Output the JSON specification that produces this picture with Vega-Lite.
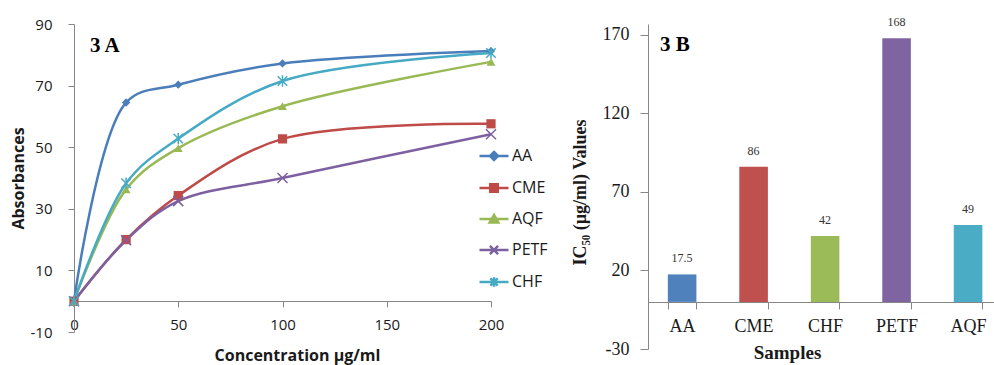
{
  "$schema": "https://vega.github.io/schema/vega-lite/v6.json",
  "background": "white",
  "padding": {"left": 10, "top": 16, "right": 0, "bottom": 4},
  "datasets": {
    "lines": [
      {"series": "AA", "conc": 0, "abs": 0},
      {"series": "AA", "conc": 25, "abs": 64.5},
      {"series": "AA", "conc": 50, "abs": 70.3},
      {"series": "AA", "conc": 100, "abs": 77.2},
      {"series": "AA", "conc": 200, "abs": 81.2},
      {"series": "CME", "conc": 0, "abs": 0},
      {"series": "CME", "conc": 25, "abs": 20},
      {"series": "CME", "conc": 50, "abs": 34.3},
      {"series": "CME", "conc": 100, "abs": 52.7},
      {"series": "CME", "conc": 200, "abs": 57.6},
      {"series": "AQF", "conc": 0, "abs": 0},
      {"series": "AQF", "conc": 25, "abs": 36.3},
      {"series": "AQF", "conc": 50, "abs": 49.7},
      {"series": "AQF", "conc": 100, "abs": 63.3},
      {"series": "AQF", "conc": 200, "abs": 77.7},
      {"series": "PETF", "conc": 0, "abs": 0},
      {"series": "PETF", "conc": 25, "abs": 19.8},
      {"series": "PETF", "conc": 50, "abs": 32.5},
      {"series": "PETF", "conc": 100, "abs": 40},
      {"series": "PETF", "conc": 200, "abs": 54.2},
      {"series": "CHF", "conc": 0, "abs": 0},
      {"series": "CHF", "conc": 25, "abs": 38.3},
      {"series": "CHF", "conc": 50, "abs": 52.8},
      {"series": "CHF", "conc": 100, "abs": 71.5},
      {"series": "CHF", "conc": 200, "abs": 80.6}
    ],
    "legend": [
      {"series": "AA"}, {"series": "CME"}, {"series": "AQF"}, {"series": "PETF"}, {"series": "CHF"}
    ],
    "bars": [
      {"sample": "AA", "ic50": 17.5},
      {"sample": "CME", "ic50": 86},
      {"sample": "CHF", "ic50": 42},
      {"sample": "PETF", "ic50": 168},
      {"sample": "AQF", "ic50": 49}
    ]
  },
  "spacing": 157,
  "bounds": "flush",
  "resolve": {"scale": {"color": "independent", "x": "independent", "y": "independent"}},
  "config": {
    "view": {"stroke": null},
    "axis": {"grid": false, "domainColor": "#868686", "tickColor": "#868686", "domainWidth": 1, "tickWidth": 1, "labelColor": "#1a1a1a", "titleColor": "#1a1a1a"}
  },
  "hconcat": [
    {
      "width": 417,
      "height": 308,
      "title": {"text": "3 A", "anchor": "start", "frame": "group", "offset": -39, "dx": 16, "font": "Liberation Serif", "fontSize": 21, "fontWeight": "bold", "color": "#000"},
      "layer": [
        {
          "data": {"name": "lines"},
          "mark": {"type": "line", "interpolate": "catmull-rom", "strokeWidth": 2.5},
          "encoding": {
            "x": {"field": "conc", "type": "quantitative", "scale": {"domain": [0, 200], "nice": false},
              "axis": {"values": [0, 50, 100, 150, 200], "offset": -31, "title": "Concentration µg/ml", "titleX": 223, "tickSize": 6, "labelPadding": 10, "titlePadding": 15, "labelFlush": false, "labelFont": "Open Sans", "labelFontSize": 15, "titleFont": "Open Sans", "titleFontSize": 16, "titleFontWeight": "bold"}},
            "y": {"field": "abs", "type": "quantitative", "scale": {"domain": [-10, 90], "nice": false, "zero": false},
              "axis": {"values": [-10, 10, 30, 50, 70, 90], "title": "Absorbances", "tickSize": 6, "labelPadding": 16, "titlePadding": 4, "labelFont": "Open Sans", "labelFontSize": 15, "titleFont": "Open Sans", "titleFontSize": 16, "titleFontWeight": "bold", "labelExpr": "replace(datum.label, '−', '-')"}},
            "color": {"field": "series", "type": "nominal", "scale": {"domain": ["AA", "CME", "AQF", "PETF", "CHF"], "range": ["#4A7EBB", "#BE4B48", "#98B954", "#7D60A0", "#46AAC5"]}, "legend": null}
          }
        },
        {
          "data": {"name": "lines"},
          "transform": [{"filter": {"field": "series", "equal": "AA"}}],
          "mark": {"type": "point", "shape": "diamond", "filled": true, "size": 70, "opacity": 1},
          "encoding": {
            "x": {"field": "conc", "type": "quantitative"},
            "y": {"field": "abs", "type": "quantitative"},
            "color": {"field": "series", "type": "nominal", "legend": null}
          }
        },
        {
          "data": {"name": "lines"},
          "transform": [{"filter": {"field": "series", "equal": "CME"}}],
          "mark": {"type": "point", "shape": "square", "filled": true, "size": 85, "opacity": 1},
          "encoding": {
            "x": {"field": "conc", "type": "quantitative"},
            "y": {"field": "abs", "type": "quantitative"},
            "color": {"field": "series", "type": "nominal", "legend": null}
          }
        },
        {
          "data": {"name": "lines"},
          "transform": [{"filter": {"field": "series", "equal": "AQF"}}],
          "mark": {"type": "point", "shape": "triangle-up", "filled": true, "size": 80, "opacity": 1},
          "encoding": {
            "x": {"field": "conc", "type": "quantitative"},
            "y": {"field": "abs", "type": "quantitative"},
            "color": {"field": "series", "type": "nominal", "legend": null}
          }
        },
        {
          "data": {"name": "lines"},
          "transform": [{"filter": {"field": "series", "equal": "PETF"}}],
          "mark": {"type": "point", "shape": "M-1,-1L1,1M1,-1L-1,1", "filled": false, "size": 100, "strokeWidth": 1.5, "opacity": 1},
          "encoding": {
            "x": {"field": "conc", "type": "quantitative"},
            "y": {"field": "abs", "type": "quantitative"},
            "color": {"field": "series", "type": "nominal", "legend": null}
          }
        },
        {
          "data": {"name": "lines"},
          "transform": [{"filter": {"field": "series", "equal": "CHF"}}],
          "mark": {"type": "point", "shape": "M-1,-1L1,1M1,-1L-1,1M0,-1.2L0,1.2", "filled": false, "size": 90, "strokeWidth": 1.5, "opacity": 1},
          "encoding": {
            "x": {"field": "conc", "type": "quantitative"},
            "y": {"field": "abs", "type": "quantitative"},
            "color": {"field": "series", "type": "nominal", "legend": null}
          }
        },
        {
          "data": {"name": "legend"},
          "mark": {"type": "point", "filled": true, "opacity": 0},
          "encoding": {
            "fill": {"field": "series", "type": "nominal", "scale": {"domain": ["AA", "CME", "AQF", "PETF", "CHF"], "range": ["#4A7EBB", "#BE4B48", "#98B954", "#7D60A0", "#46AAC5"]},
              "legend": {"orient": "none", "legendX": 404, "legendY": 116, "title": null, "padding": 0, "symbolSize": 841, "symbolStrokeWidth": 2.5, "symbolOpacity": 1, "labelFont": "Open Sans", "labelFontSize": 16, "labelColor": "#1a1a1a", "labelOffset": 2, "rowPadding": 6}},
            "stroke": {"field": "series", "type": "nominal", "scale": {"domain": ["AA", "CME", "AQF", "PETF", "CHF"], "range": ["#4A7EBB", "#BE4B48", "#98B954", "#7D60A0", "#46AAC5"]},
              "legend": {"orient": "none", "legendX": 404, "legendY": 116, "title": null, "padding": 0, "symbolSize": 841, "symbolStrokeWidth": 2.5, "symbolOpacity": 1, "labelFont": "Open Sans", "labelFontSize": 16, "labelColor": "#1a1a1a", "labelOffset": 2, "rowPadding": 6}},
            "shape": {"field": "series", "type": "nominal", "scale": {"domain": ["AA", "CME", "AQF", "PETF", "CHF"], "range": [
              "M-1,0L1,0M0,-0.28L0.28,0L0,0.28L-0.28,0Z",
              "M-1,0L1,0M-0.26,-0.26L0.26,-0.26L0.26,0.26L-0.26,0.26Z",
              "M-1,0L1,0M0,-0.28L0.3,0.24L-0.3,0.24Z",
              "M-1,0L1,0M-0.28,-0.28L0.28,0.28M0.28,-0.28L-0.28,0.28",
              "M-1,0L1,0M-0.25,-0.25L0.25,0.25M0.25,-0.25L-0.25,0.25M0,-0.32L0,0.32"]},
              "legend": {"orient": "none", "legendX": 404, "legendY": 116, "title": null, "padding": 0, "symbolSize": 841, "symbolStrokeWidth": 2.5, "symbolOpacity": 1, "labelFont": "Open Sans", "labelFontSize": 16, "labelColor": "#1a1a1a", "labelOffset": 2, "rowPadding": 6}}
          }
        }
      ]
    },
    {
      "width": 346,
      "height": 325,
      "title": {"text": "3 B", "anchor": "start", "frame": "group", "offset": -39, "dx": 12, "font": "Liberation Serif", "fontSize": 21, "fontWeight": "bold", "color": "#000"},
      "data": {"name": "bars"},
      "layer": [
        {
          "mark": {"type": "bar"},
          "encoding": {
            "x": {"field": "sample", "type": "nominal", "sort": null, "scale": {"paddingInner": 0.6, "paddingOuter": 0.22, "align": 0.63},
              "axis": {"labelAngle": 0, "title": "Samples", "titleX": 139, "offset": -47, "tickBand": "extent", "tickSize": 7, "labelPadding": 8, "titlePadding": 8, "labelFont": "Liberation Serif", "labelFontSize": 18, "titleFont": "Liberation Serif", "titleFontSize": 19, "titleFontWeight": "bold"}},
            "y": {"field": "ic50", "type": "quantitative", "scale": {"domain": [-30, 177], "nice": false, "zero": false},
              "axis": {"values": [-30, 20, 70, 120, 170], "title": "IC₅₀ (µg/ml) Values", "titleY": 168, "tickSize": 8, "labelPadding": 11, "titlePadding": 13, "labelFont": "Liberation Serif", "labelFontSize": 18, "titleFont": "Liberation Serif", "titleFontSize": 18, "titleFontWeight": "bold", "labelExpr": "replace(datum.label, '−', '-')"}},
            "color": {"field": "sample", "type": "nominal", "sort": null, "scale": {"domain": ["AA", "CME", "CHF", "PETF", "AQF"], "range": ["#4F81BD", "#C0504D", "#9BBB59", "#8064A2", "#4BACC6"]}, "legend": null}
          }
        },
        {
          "mark": {"type": "text", "dy": -16, "font": "Liberation Serif", "fontSize": 12, "color": "#333"},
          "encoding": {
            "x": {"field": "sample", "type": "nominal", "sort": null},
            "y": {"field": "ic50", "type": "quantitative"},
            "text": {"field": "ic50", "type": "quantitative"}
          }
        }
      ]
    }
  ]
}
